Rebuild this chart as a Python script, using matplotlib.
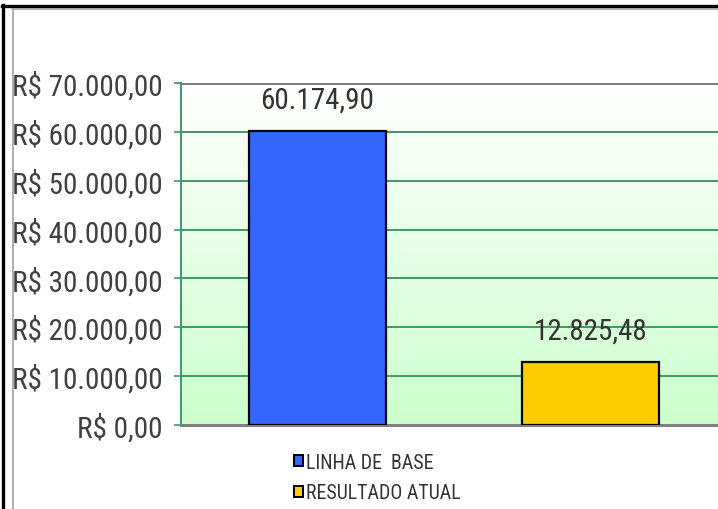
import numpy as np
import matplotlib
matplotlib.use("Agg")
import matplotlib.pyplot as plt
from matplotlib import font_manager
from matplotlib.lines import Line2D
from matplotlib.patches import Patch
from matplotlib.ticker import FuncFormatter

categories = ["LINHA DE  BASE", "RESULTADO ATUAL"]
values = [60174.90, 12825.48]
colors = ["#3366ff", "#ffcc00"]
y_ticks = [0, 10000, 20000, 30000, 40000, 50000, 60000, 70000]

installed = {f.name for f in font_manager.fontManager.ttflist}
font = "DejaVu Sans"
for cand in ["Liberation Sans Narrow", "DejaVu Sans Condensed", "Roboto Condensed"]:
    if cand in installed:
        font = cand
        break
plt.rcParams["font.family"] = [font, "DejaVu Sans"]


def brl(v, decimals=2):
    s = f"{v:,.{decimals}f}"
    return s.replace(",", "X").replace(".", ",").replace("X", ".")


W, H = 718, 510
fig = plt.figure(figsize=(W / 100, H / 100), dpi=100)

# plot area is cut off on the right in the reference
ax = fig.add_axes([181 / W, 84 / H, (727 - 181) / W, (426 - 84) / H])

# white-to-light-green gradient background
grad = np.linspace(1, 0, 256).reshape(-1, 1)
top = np.array([1.0, 1.0, 1.0])
bottom = np.array([204, 255, 204]) / 255
img = bottom + (top - bottom) * grad[..., None]
ax.imshow(img, extent=[-0.5, 1.5, 0, 70000], aspect="auto", zorder=0)

x = np.arange(len(categories))
ax.bar(x, values, width=0.5, color=colors, edgecolor="black", linewidth=1.6, zorder=3)

for xi, v in zip(x, values):
    ax.text(xi, v + 3600, brl(v), ha="center", va="bottom", fontsize=21, color="#333333", zorder=4)

ax.set_xlim(-0.5, 1.5)
ax.set_ylim(0, 70000)
ax.set_yticks(y_ticks)
ax.yaxis.set_major_formatter(FuncFormatter(lambda v, p: "R$ " + brl(v)))
ax.set_xticks([])
ax.tick_params(axis="y", length=5, width=1.2, color="#3c9a6a", labelsize=21,
               labelcolor="#404040", pad=8)

for yv in y_ticks[1:-1]:
    ax.axhline(yv, color="#3c9a6a", linewidth=1.4, zorder=1)
ax.axhline(70000, color="#808080", linewidth=2.2, zorder=2)

ax.spines["left"].set_color("#3c9a6a")
ax.spines["left"].set_linewidth(1.4)
ax.spines["bottom"].set_color("#808080")
ax.spines["bottom"].set_linewidth(2.2)
ax.spines["top"].set_visible(False)
ax.spines["right"].set_visible(False)

handles = [Patch(facecolor=c, edgecolor="black", linewidth=1.4) for c in colors]
fig.legend(handles, categories, loc="upper left", bbox_to_anchor=(276 / W, 1 - 436 / H),
           frameon=False, fontsize=14.3, handlelength=0.45, handleheight=0.45,
           handletextpad=0.15, labelspacing=0.58, labelcolor="#333333")

# outer frame: black border plus thin gray inner line
fig.add_artist(Line2D([3 / W, 3 / W], [0, 1 - 6 / H], color="black", linewidth=2.4))
fig.add_artist(Line2D([2 / W, 1], [1 - 7 / H, 1 - 7 / H], color="black", linewidth=2.4))
fig.add_artist(Line2D([12.5 / W, 12.5 / W], [0, 1 - 9.5 / H], color="#a0a0a0", linewidth=1.2))
fig.add_artist(Line2D([12 / W, 1], [1 - 9.5 / H, 1 - 9.5 / H], color="#a0a0a0", linewidth=1.2))

fig.savefig("out.png", dpi=100)
